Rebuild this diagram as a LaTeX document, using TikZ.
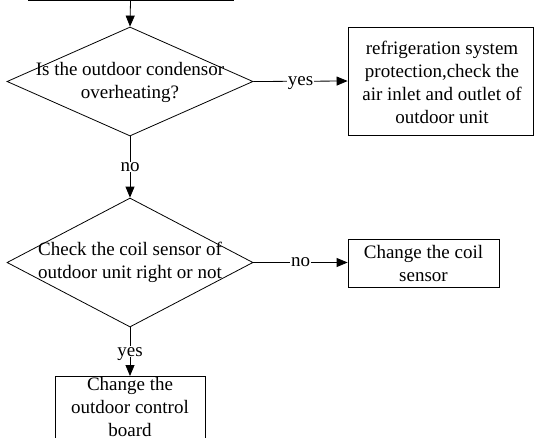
\documentclass[tikz,border=0pt]{standalone}
\usepackage{fontspec}
\setmainfont{Liberation Serif}
\usetikzlibrary{shapes.geometric,arrows.meta}
\begin{document}
\begin{tikzpicture}[x=1pt,y=-1pt,
  line width=0.8pt,
  every node/.style={font=\fontsize{19}{23}\selectfont},
  box/.style={draw, rectangle, inner sep=0},
  decision/.style={draw, diamond, inner sep=0, minimum width=246pt},
  txt/.style={align=center, inner sep=0},
  lbl/.style={fill=white, inner sep=1pt, text depth=0pt},
  flow/.style={-{Triangle[length=11pt,width=9pt]}}]
\useasboundingbox (0,0) rectangle (534,437);
\clip (0,0) rectangle (534,437);

% previous step (only its lower edge shows)
\node[box, minimum width=205pt, minimum height=40pt, anchor=south] (start) at (130.5,0.5) {};

% first decision
\node[decision, minimum height=109pt] (d1) at (130,81.5) {};
\node[txt] (d1t) at (130,82.5) {Is the outdoor condensor\\overheating?};

% protection box
\node[box, minimum width=185pt, minimum height=108pt] (r1) at (440.5,81) {};
\node[txt] (r1t) at (442,82.5) {refrigeration system\\protection,check the\\air inlet and outlet of\\outdoor unit};

% second decision
\node[decision, minimum height=129pt] (d2) at (130,262.5) {};
\node[txt] (d2t) at (130,262.5) {Check the coil sensor of\\outdoor unit right or not};

% coil sensor box
\node[box, minimum width=151pt, minimum height=48pt] (r2) at (423.5,263) {};
\node[txt] (r2t) at (423.5,263.5) {Change the coil\\sensor};

% control board box (runs off the lower edge)
\node[box, minimum width=150pt, minimum height=80pt, anchor=north] (b) at (130,376) {};
\node[txt] (bt) at (130,407) {Change the\\outdoor control\\board};

% connectors
\draw[flow] (start.south) -- (d1.north);
\draw[flow] (d1.east) -- node[lbl] {yes} (r1.west);
\draw[flow] (d1.south) -- node[lbl] {no} (d2.north);
\draw[flow] (d2.east) -- node[lbl] {no} (r2.west |- d2.east);
\draw[flow] (d2.south) -- node[lbl] {yes} (b.north);
\end{tikzpicture}
\end{document}
